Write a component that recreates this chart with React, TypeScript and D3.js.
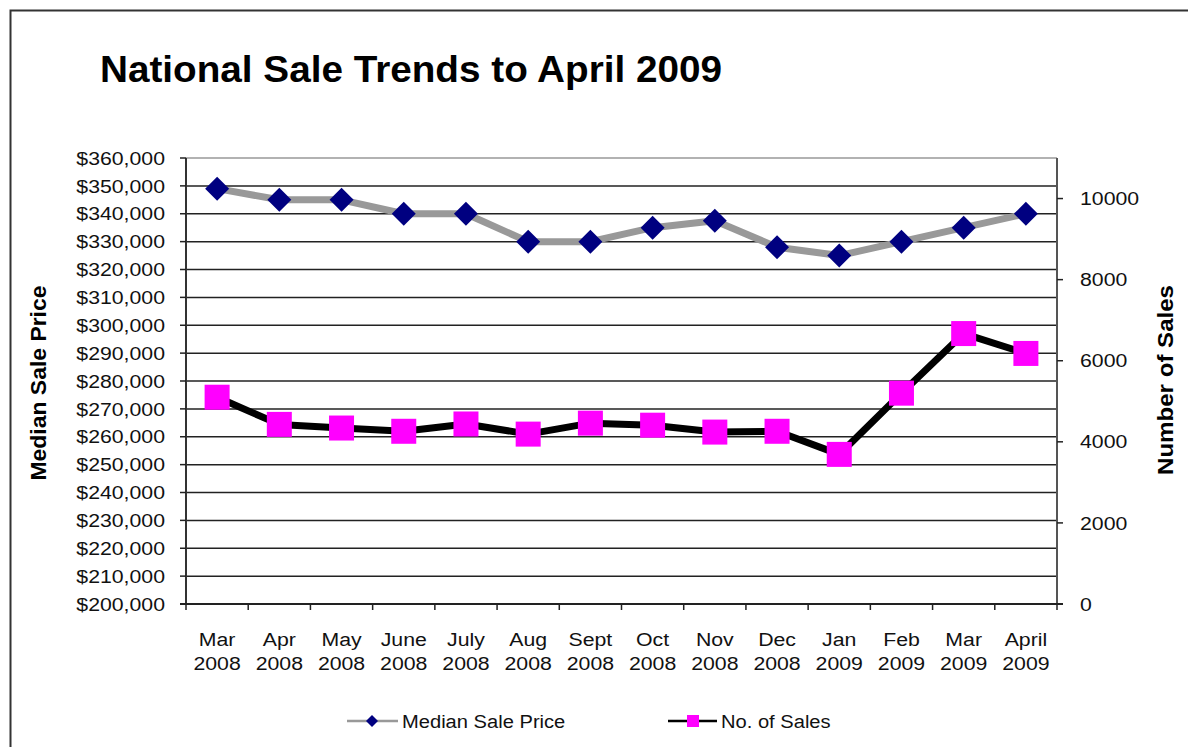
import React from "react";
import * as d3 from "d3";

const categories = [
  ["Mar", "2008"], ["Apr", "2008"], ["May", "2008"], ["June", "2008"], ["July", "2008"],
  ["Aug", "2008"], ["Sept", "2008"], ["Oct", "2008"], ["Nov", "2008"], ["Dec", "2008"],
  ["Jan", "2009"], ["Feb", "2009"], ["Mar", "2009"], ["April", "2009"],
];
const medianPrice = [349000, 345000, 345000, 340000, 340000, 330000, 330000, 335000, 337500, 328000, 325000, 330000, 335000, 340000];
const numSales = [5100, 4430, 4340, 4260, 4440, 4190, 4460, 4410, 4240, 4260, 3690, 5200, 6670, 6180];
const leftTicks = d3.range(200000, 360001, 10000);
const rightTicks = [0, 2000, 4000, 6000, 8000, 10000];

const W = 1188, H = 747;
const plot = { left: 186, right: 1057, top: 158, bottom: 604 };
const FONT = "'Liberation Sans', Arial, sans-serif";

function T({ x, y, anchor = "start", size = 19, sx = 1.12, children }: any) {
  return (
    <text transform={`translate(${x},${y}) scale(${sx},1)`} dy="0.35em" textAnchor={anchor} fontSize={size} fill="#111">
      {children}
    </text>
  );
}

export default function App() {
  const idx = categories.map((_, i) => String(i));
  const x = d3.scaleBand().domain(idx).range([plot.left, plot.right]);
  const yL = d3.scaleLinear().domain([200000, 360000]).range([plot.bottom, plot.top]);
  const yR = d3.scaleLinear().domain([0, 11000]).range([plot.bottom, plot.top]);
  const cx = (i: number) => (x(String(i)) as number) + x.bandwidth() / 2;
  const fmt = d3.format("$,");
  const linePrice = d3.line<number>().x((_, i) => cx(i)).y((d) => yL(d));
  const lineSales = d3.line<number>().x((_, i) => cx(i)).y((d) => yR(d));
  const dPath = (s: number) => `M0,${-s}L${s},0L0,${s}L${-s},0Z`;

  return (
    <svg width={W} height={H} style={{ position: "absolute", left: 0, top: 0, background: "#fff" }} fontFamily={FONT}>
      <rect x={0} y={0} width={W} height={H} fill="#fff" />
      <rect x={10.5} y={10.5} width={W + 20} height={H + 20} fill="none" stroke="#333" strokeWidth={2} />
      <text x={100} y={82} fontSize={37} fontWeight="bold" fill="#000" textLength={622} lengthAdjust="spacingAndGlyphs">
        National Sale Trends to April 2009
      </text>

      {leftTicks.map((t) => (
        <line key={"g" + t} x1={plot.left} x2={plot.right} y1={yL(t)} y2={yL(t)} stroke={t === 360000 ? "#999" : "#222"} strokeWidth={1.5} />
      ))}
      <line x1={plot.left} x2={plot.left} y1={plot.top} y2={plot.bottom} stroke="#333" strokeWidth={2} />
      <line x1={plot.right} x2={plot.right} y1={plot.top} y2={plot.bottom} stroke="#555" strokeWidth={2} />
      <line x1={plot.left - 6} x2={plot.right + 6} y1={plot.bottom} y2={plot.bottom} stroke="#222" strokeWidth={2} />

      {leftTicks.map((t) => (
        <g key={"l" + t}>
          <line x1={plot.left - 6} x2={plot.left} y1={yL(t)} y2={yL(t)} stroke="#222" strokeWidth={1.5} />
          <T x={165} y={yL(t)} anchor="end">{fmt(t)}</T>
        </g>
      ))}
      {rightTicks.map((t) => (
        <g key={"r" + t}>
          <line x1={plot.right} x2={plot.right + 6} y1={yR(t)} y2={yR(t)} stroke="#222" strokeWidth={1.5} />
          <T x={1080} y={yR(t)}>{t}</T>
        </g>
      ))}
      {d3.range(categories.length + 1).map((i) => {
        const xx = plot.left + i * x.bandwidth();
        return <line key={"b" + i} x1={xx} x2={xx} y1={plot.bottom} y2={plot.bottom + 6} stroke="#222" strokeWidth={1.5} />;
      })}
      {categories.map((c, i) => (
        <g key={"c" + i}>
          <T x={cx(i)} y={639} anchor="middle">{c[0]}</T>
          <T x={cx(i)} y={663} anchor="middle">{c[1]}</T>
        </g>
      ))}

      <text transform={`translate(46,383) rotate(-90)`} textAnchor="middle" fontSize={22} fontWeight="bold" fill="#000" textLength={195} lengthAdjust="spacingAndGlyphs">Median Sale Price</text>
      <text transform={`translate(1173,380) rotate(-90)`} textAnchor="middle" fontSize={22} fontWeight="bold" fill="#000" textLength={190} lengthAdjust="spacingAndGlyphs">Number of Sales</text>

      <path d={linePrice(medianPrice) as string} fill="none" stroke="#999" strokeWidth={7} strokeLinejoin="round" />
      {medianPrice.map((v, i) => (
        <path key={"d" + i} d={dPath(12)} transform={`translate(${cx(i)},${yL(v)})`} fill="#000080" />
      ))}
      <path d={lineSales(numSales) as string} fill="none" stroke="#000" strokeWidth={7} strokeLinejoin="round" />
      {numSales.map((v, i) => (
        <rect key={"s" + i} x={cx(i) - 12.5} y={yR(v) - 12.5} width={25} height={25} fill="#ff00ff" />
      ))}

      <line x1={347} x2={398} y1={721} y2={721} stroke="#999" strokeWidth={2.5} />
      <path d={dPath(6)} transform="translate(372,721)" fill="#000080" />
      <T x={402} y={721} sx={1.06}>Median Sale Price</T>
      <line x1={668} x2={717} y1={721} y2={721} stroke="#000" strokeWidth={2.5} />
      <rect x={687} y={715} width={12} height={12} fill="#ff00ff" />
      <T x={721} y={721} sx={1.06}>No. of Sales</T>
    </svg>
  );
}
